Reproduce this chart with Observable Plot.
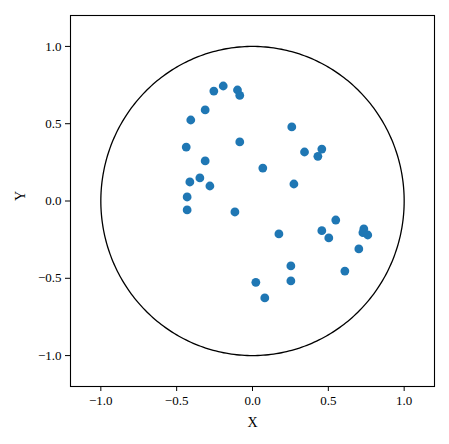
<!DOCTYPE html>
<html>
<head>
<meta charset="utf-8">
<script src="https://cdn.jsdelivr.net/npm/d3@7"></script>
<script src="https://cdn.jsdelivr.net/npm/@observablehq/plot@0.6"></script>
<style>
  html, body { margin: 0; padding: 0; background: #fff; }
  #chart svg { display: block; }
  #chart svg, #chart svg text { font-family: "Liberation Serif", "Times New Roman", Times, serif !important; fill: black; }
</style>
</head>
<body>
<div id="chart"></div>
<script>
const xs = [-0.255, -0.193, -0.099, -0.084, -0.312, -0.407, -0.437, -0.084, -0.312, -0.347,
            -0.413, -0.281, -0.431, -0.431, -0.116, 0.068, 0.259, 0.343, 0.431, 0.457,
            0.273, 0.549, 0.457, 0.503, 0.174, 0.734, 0.728, 0.760, 0.701, 0.609,
            0.253, 0.253, 0.022, 0.081];
const ys = [0.711, 0.744, 0.718, 0.683, 0.589, 0.524, 0.349, 0.382, 0.259, 0.149,
            0.123, 0.097, 0.026, -0.058, -0.071, 0.213, 0.479, 0.317, 0.289, 0.336,
            0.110, -0.123, -0.192, -0.239, -0.213, -0.181, -0.205, -0.220, -0.310, -0.453,
            -0.420, -0.517, -0.526, -0.627];
const tickValues = [-1.0, -0.5, 0.0, 0.5, 1.0];
const axisLimits = [-1.2, 1.2];
const circleRadius = 1;
const xLabel = "X";
const yLabel = "Y";

const points = xs.map((x, i) => ({x, y: ys[i]}));
const circle = d3.range(0, 361).map(a => {
  const t = a * Math.PI / 180;
  return {x: circleRadius * Math.cos(t), y: circleRadius * Math.sin(t)};
});

const fmt = d3.format(".1f");
const W = 449, H = 444;
const mL = 70, mR = 15, mT = 15, mB = 58;

const chart = Plot.plot({
  width: W,
  height: H,
  marginLeft: mL,
  marginRight: mR,
  marginTop: mT,
  marginBottom: mB,
  style: {fontSize: "13px", color: "black", background: "white"},
  x: {domain: axisLimits},
  y: {domain: axisLimits},
  marks: [
    Plot.line(circle, {x: "x", y: "y", stroke: "black", strokeWidth: 1.3}),
    Plot.dot(points, {x: "x", y: "y", r: 4.4, fill: "#1f77b4", stroke: null}),
    Plot.frame({stroke: "black", strokeWidth: 1.1}),
    Plot.axisX({ticks: tickValues, tickFormat: fmt, tickSize: 5, tickPadding: 4, label: null, fontSize: 13}),
    Plot.axisY({ticks: tickValues, tickFormat: fmt, tickSize: 5, tickPadding: 4, label: null, fontSize: 13}),
    Plot.text([xLabel], {frameAnchor: "bottom", dy: 40, text: d => d, fontSize: 14}),
    Plot.text([yLabel], {frameAnchor: "left", dx: -50, rotate: -90, text: d => d, fontSize: 14})
  ]
});
document.getElementById("chart").appendChild(chart);
</script>
</body>
</html>
